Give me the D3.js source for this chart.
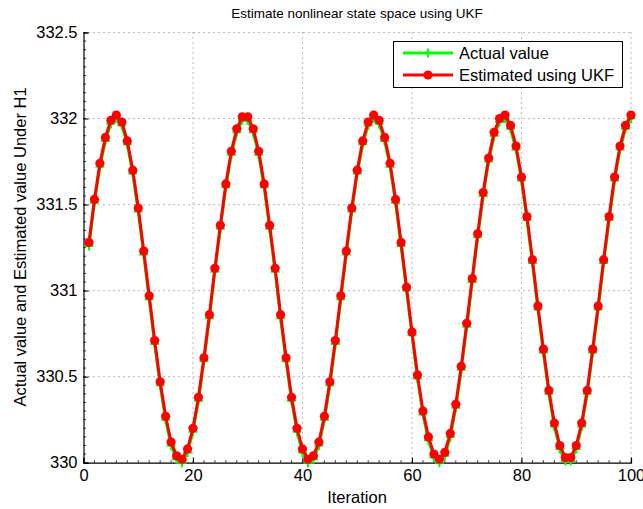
<!DOCTYPE html>
<html><head><meta charset="utf-8">
<script src="https://cdn.jsdelivr.net/npm/d3@7"></script>
<style>body{margin:0;background:#fff;}svg{display:block;font-family:"Liberation Sans",Arial,sans-serif;}</style>
</head><body><svg id="c" width="643" height="509"></svg>
<script>
const iterations = d3.range(1, 101);
const actualValues = [
331.26,331.51,331.72,331.87,331.97,332.00,331.96,331.85,331.68,331.46,331.21,330.95,
330.69,330.45,330.25,330.10,330.02,330.00,330.06,330.18,330.36,330.59,330.84,331.11,
331.36,331.60,331.79,331.92,331.99,331.99,331.92,331.79,331.60,331.36,331.11,330.84,
330.59,330.36,330.18,330.06,330.00,330.02,330.10,330.25,330.45,330.69,330.95,331.21,
331.46,331.68,331.85,331.96,332.00,331.97,331.87,331.72,331.51,331.26,331.00,330.74,
330.49,330.28,330.13,330.03,330.00,330.04,330.15,330.32,330.54,330.79,331.05,331.31,
331.55,331.75,331.90,331.98,332.00,331.94,331.82,331.64,331.41,331.16,330.89,330.64,
330.40,330.21,330.08,330.01,330.01,330.08,330.21,330.40,330.64,330.89,331.16,331.41,
331.64,331.82,331.94,332.00];
const estimatedValues = [
331.28,331.53,331.74,331.89,331.99,332.02,331.98,331.87,331.70,331.48,331.23,330.97,
330.71,330.47,330.27,330.12,330.04,330.02,330.08,330.20,330.38,330.61,330.86,331.13,
331.38,331.62,331.81,331.94,332.01,332.01,331.94,331.81,331.62,331.38,331.13,330.86,
330.61,330.38,330.20,330.08,330.02,330.04,330.12,330.27,330.47,330.71,330.97,331.23,
331.48,331.70,331.87,331.98,332.02,331.99,331.89,331.74,331.53,331.28,331.02,330.76,
330.51,330.30,330.15,330.05,330.02,330.06,330.17,330.34,330.56,330.81,331.07,331.33,
331.57,331.77,331.92,332.00,332.02,331.96,331.84,331.66,331.43,331.18,330.91,330.66,
330.42,330.23,330.10,330.03,330.03,330.10,330.23,330.42,330.66,330.91,331.18,331.43,
331.66,331.84,331.96,332.02];
const xTicks = [0,20,40,60,80,100];
const yTicks = [330,330.5,331,331.5,332,332.5];
const titleText = "Estimate nonlinear state space using UKF";
const xLabel = "Iteration";
const yLabel = "Actual value and Estimated value Under H1";
const legendLabels = ["Actual value","Estimated using UKF"];

const FS = 16.5;
const svg = d3.select("#c");
const L=83.5, R=631, T=32.5, B=462.7;
const x = d3.scaleLinear().domain([0,100]).range([L,R]);
const y = d3.scaleLinear().domain([330,332.5]).range([B,T]);

// grid
const g = svg.append("g");
const gridStyle = s=>s.attr("stroke","#666").attr("stroke-width",0.9).attr("stroke-dasharray","1,4");
xTicks.slice(1).forEach(v=>gridStyle(g.append("line").attr("x1",x(v)).attr("x2",x(v)).attr("y1",T).attr("y2",B)));
yTicks.slice(1).forEach(v=>gridStyle(g.append("line").attr("x1",L).attr("x2",R).attr("y1",y(v)).attr("y2",y(v))));

// axes
const xAxis = d3.axisBottom(x).tickValues(xTicks).tickSize(-5).tickPadding(7).tickFormat(d3.format("d"));
const yAxis = d3.axisLeft(y).tickValues(yTicks).tickSize(-5).tickPadding(6).tickFormat(d=>String(d));
const xa = svg.append("g").attr("transform",`translate(0,${B})`).call(xAxis);
const ya = svg.append("g").attr("transform",`translate(${L},0)`).call(yAxis);
[xa,ya].forEach(a=>{a.select(".domain").attr("stroke","#000").attr("stroke-width",1.2);
  a.selectAll(".tick line").attr("stroke","#000");
  a.selectAll("text").attr("font-size",FS).attr("fill","#000").attr("font-family","Liberation Sans, Arial, sans-serif");});
// minor ticks
d3.range(0,101,2).forEach(v=>svg.append("line").attr("x1",x(v)).attr("x2",x(v)).attr("y1",B).attr("y2",B-2.5).attr("stroke","#000").attr("stroke-width",0.8));
d3.range(330,332.5001,0.05).forEach(v=>svg.append("line").attr("x1",L).attr("x2",L+2.5).attr("y1",y(v)).attr("y2",y(v)).attr("stroke","#000").attr("stroke-width",0.8));

// series
const pa = iterations.map((k,i)=>[k,actualValues[i]]);
const pe = iterations.map((k,i)=>[k,estimatedValues[i]]);
const line = d3.line().x(d=>x(d[0])).y(d=>y(d[1]));
svg.append("path").attr("d",line(pa)).attr("fill","none").attr("stroke","#00ff00").attr("stroke-width",3);
const plus = svg.append("g");
pa.forEach(d=>{
  plus.append("path").attr("d",`M${x(d[0])-4.5},${y(d[1])}h9M${x(d[0])},${y(d[1])-4.5}v9`).attr("stroke","#00ff00").attr("stroke-width",2);
});
svg.append("path").attr("d",line(pe)).attr("fill","none").attr("stroke","#ff0000").attr("stroke-width",3);
svg.append("g").selectAll("circle").data(pe).join("circle")
  .attr("cx",d=>x(d[0])).attr("cy",d=>y(d[1])).attr("r",4.6).attr("fill","#ff0000");

// legend
const lg = svg.append("g");
lg.append("rect").attr("x",393.5).attr("y",41.5).attr("width",229).attr("height",46).attr("fill","#fff").attr("stroke","#000").attr("stroke-width",1);
lg.append("line").attr("x1",403).attr("x2",453).attr("y1",53).attr("y2",53).attr("stroke","#00ff00").attr("stroke-width",3);
lg.append("path").attr("d","M423.5,53h9M428,48.5v9").attr("stroke","#00ff00").attr("stroke-width",2);
lg.append("line").attr("x1",403).attr("x2",453).attr("y1",75).attr("y2",75).attr("stroke","#ff0000").attr("stroke-width",3);
lg.append("circle").attr("cx",428).attr("cy",75).attr("r",4.6).attr("fill","#ff0000");
lg.append("text").attr("x",459).attr("y",59).attr("font-size",FS).text(legendLabels[0]);
lg.append("text").attr("x",459).attr("y",81).attr("font-size",FS).text(legendLabels[1]);

// titles
svg.append("text").attr("x",357).attr("y",18).attr("text-anchor","middle").attr("font-size",13.5).text(titleText);
svg.append("text").attr("x",357).attr("y",503).attr("text-anchor","middle").attr("font-size",FS).text(xLabel);
svg.append("text").attr("transform","translate(26,247) rotate(-90)").attr("text-anchor","middle").attr("font-size",FS).text(yLabel);
</script></body></html>
